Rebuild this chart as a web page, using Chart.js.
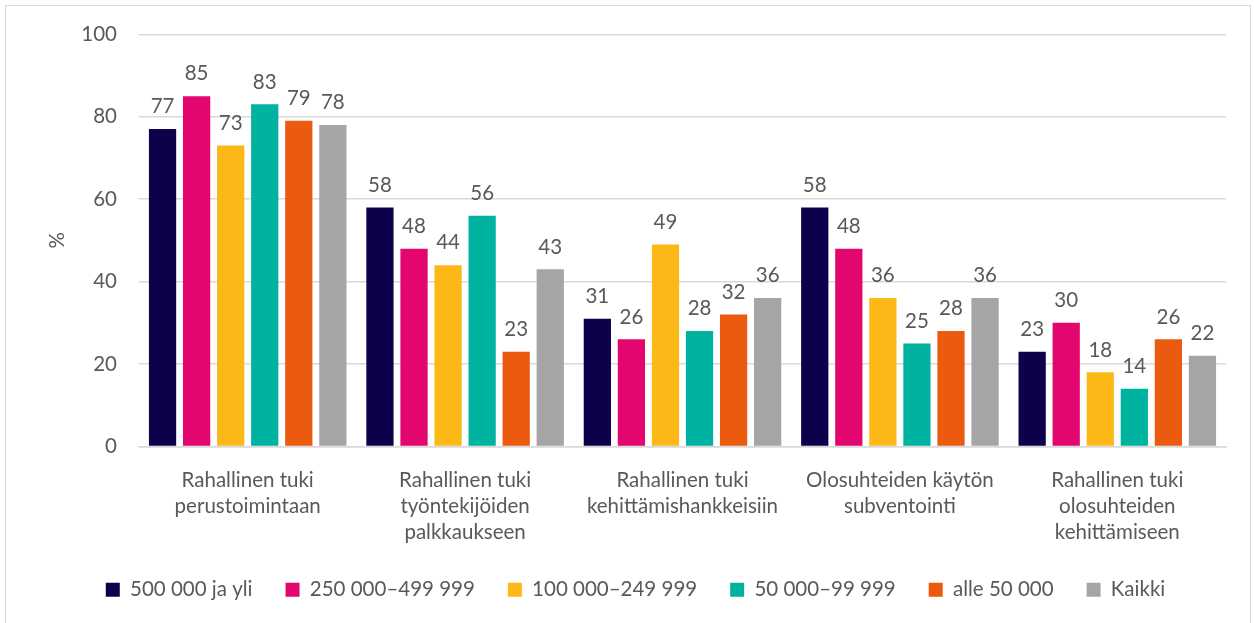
<!DOCTYPE html>
<html>
<head>
<meta charset="utf-8">
<script src="https://cdn.jsdelivr.net/npm/chart.js@4"></script>
<style>
  body { margin: 0; background: #fff; }
  #wrap { position: relative; width: 1254px; height: 623px; }
  #frame { position: absolute; left: 5px; top: 5px; right: 3px; bottom: -2px; border: 1px solid #d9d9d9; }
</style>
</head>
<body>
<div id="wrap">
  <div id="frame"></div>
  <canvas id="chart" width="1254" height="623"></canvas>
</div>
<script>
// kategoriat (monirivinen teksti)
const kategoriat = [
  ["Rahallinen tuki", "perustoimintaan"],
  ["Rahallinen tuki", "työntekijöiden", "palkkaukseen"],
  ["Rahallinen tuki", "kehittämishankkeisiin"],
  ["Olosuhteiden käytön", "subventointi"],
  ["Rahallinen tuki", "olosuhteiden", "kehittämiseen"]
];

const sarjat = ["500 000 ja yli", "250 000–499 999", "100 000–249 999", "50 000–99 999", "alle 50 000", "Kaikki"];
const varit = ["#0f004c", "#e3066f", "#fbb816", "#00b3a0", "#ea5a0f", "#a5a5a5"];

const yli500 = [77, 58, 31, 58, 23];
const v250_499 = [85, 48, 26, 48, 30];
const v100_249 = [73, 44, 49, 36, 18];
const v50_99 = [83, 56, 28, 25, 14];
const alle50 = [79, 23, 32, 28, 26];
const kaikki = [78, 43, 36, 36, 22];

const yTicks = [0, 20, 40, 60, 80, 100];

const arvot = [yli500, v250_499, v100_249, v50_99, alle50, kaikki];
const teksti = "#595959";
const fontti = "Lato, 'Open Sans', sans-serif";
const koko = 20.5;

// arvojen piirto pylväiden päälle
const arvoLabelit = {
  id: "arvoLabelit",
  afterDatasetsDraw(chart) {
    const ctx = chart.ctx;
    ctx.save();
    ctx.font = koko + "px " + fontti;
    ctx.fillStyle = teksti;
    ctx.textAlign = "center";
    ctx.textBaseline = "bottom";
    chart.data.datasets.forEach((ds, i) => {
      chart.getDatasetMeta(i).data.forEach((bar, j) => {
        ctx.fillText(ds.data[j], bar.x, bar.y - 12);
      });
    });
    ctx.restore();
  }
};

new Chart(document.getElementById("chart"), {
  type: "bar",
  data: {
    labels: kategoriat,
    datasets: sarjat.map((nimi, i) => ({
      label: nimi,
      data: arvot[i],
      backgroundColor: varit[i],
      categoryPercentage: 0.94,
      barPercentage: 0.8
    }))
  },
  options: {
    responsive: false,
    animation: false,
    layout: { padding: { top: 34, right: 28, left: 45, bottom: 13 } },
    plugins: {
      legend: {
        position: "bottom",
        labels: {
          color: teksti,
          font: { family: fontti, size: koko },
          boxWidth: 14,
          boxHeight: 14,
          padding: 33,
          useBorderRadius: false
        }
      },
      tooltip: { enabled: false }
    },
    scales: {
      x: {
        grid: { display: false },
        border: { color: "#d9d9d9", width: 1.5 },
        ticks: {
          color: teksti,
          font: { family: fontti, size: koko, lineHeight: 1.27 },
          maxRotation: 0,
          autoSkip: false,
          padding: 13
        },
        afterFit(scale) { scale.height = 100; }
      },
      y: {
        min: 0,
        max: 100,
        afterBuildTicks(scale) { scale.ticks = yTicks.map(v => ({ value: v })); },
        grid: { color: "#d9d9d9", lineWidth: 1.5, drawTicks: false },
        border: { display: false },
        ticks: {
          color: teksti,
          font: { family: fontti, size: koko },
          padding: 22
        },
        title: {
          display: true,
          text: "%",
          color: teksti,
          font: { family: fontti, size: koko },
          padding: { top: 0, bottom: 0 }
        },
        afterFit(scale) { scale.width = 94; }
      }
    }
  },
  plugins: [arvoLabelit]
});
</script>
</body>
</html>
